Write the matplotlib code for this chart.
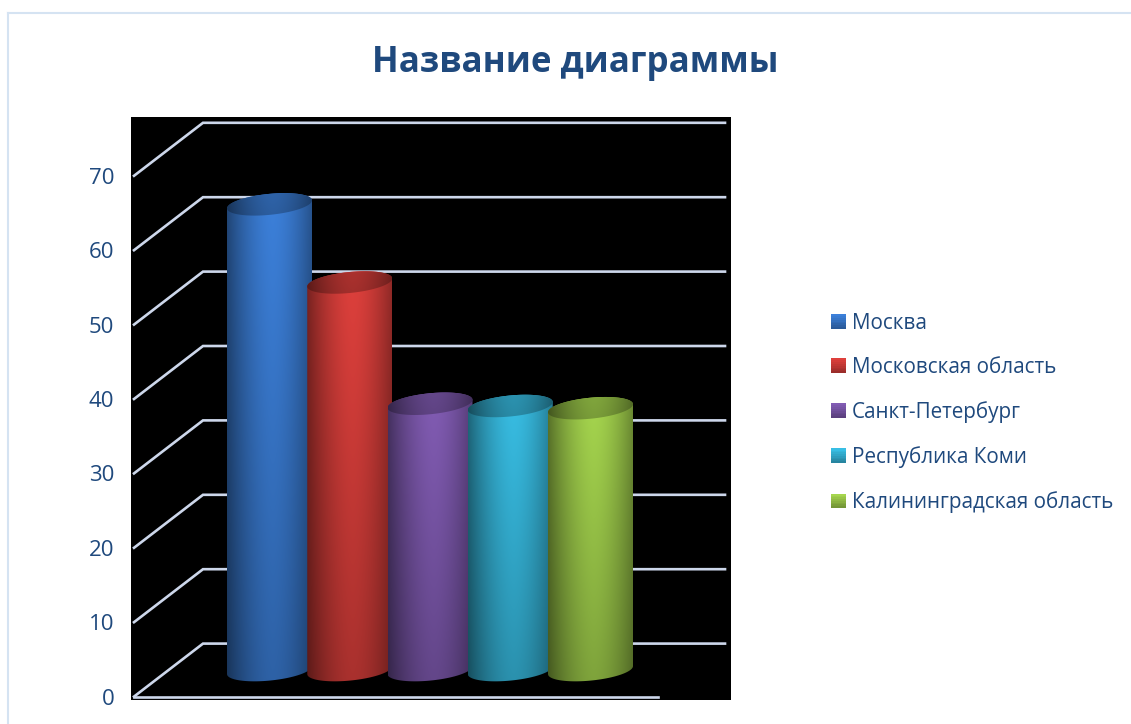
import numpy as np
import matplotlib
matplotlib.use("Agg")
from matplotlib import pyplot as plt
from matplotlib.legend_handler import HandlerBase
from matplotlib.lines import Line2D
from matplotlib.patches import Polygon, Rectangle

regioes = ["Москва", "Московская область", "Санкт-Петербург", "Республика Коми", "Калининградская область"]
valores = [62.6, 52.1, 35.8, 35.5, 35.2]
cores = ["#3C80DA", "#DE403C", "#825CB4", "#38BEE4", "#A6D64E"]
ticks = [0, 10, 20, 30, 40, 50, 60, 70]

LARGURA, ALTURA = 1131, 724
PX_X = 80.25  # pixels por categoria
PX_Y = 7.44   # pixels por unidade
COR_TEXTO = "#1F497D"
COR_GRADE = "#CDD7EB"

plt.rcParams["font.family"] = ["Open Sans", "DejaVu Sans"]

fig = plt.figure(figsize=(LARGURA / 100, ALTURA / 100), dpi=100)
ax = fig.add_axes([131 / LARGURA, 1 - 700 / ALTURA, 600 / LARGURA, 583 / ALTURA])
ax.set_facecolor("black")

xlim = ((131 - 269.5) / PX_X, (731 - 269.5) / PX_X)
ylim = (-3.4 / PX_Y, (696.6 - 117) / PX_Y)

# profundidade do piso
prof_x = 69 / PX_X
prof_y = 53 / PX_Y
x_frente = (134 - 269.5) / PX_X
x_fundo = (725 - 269.5) / PX_X
x_piso = (658 - 269.5) / PX_X

for t in ticks:
    ax.plot([x_frente, x_frente + prof_x, x_fundo], [t, t + prof_y, t + prof_y],
            color=COR_GRADE, lw=1.9, solid_joinstyle="miter", zorder=1)
ax.plot([x_frente, x_piso], [0, 0], color=COR_GRADE, lw=1.9, zorder=1)

# cilindro
raio_x = 42.5 / PX_X
raio_y = 10.5 / PX_Y
inclinacao = 4 / PX_Y
base = prof_y / 2


def elipse(cx, cy, t):
    return cx + raio_x * np.cos(t), cy + raio_y * np.sin(t) + inclinacao * np.cos(t)


def degrade(cor, escala_topo, escala_base):
    rgb = np.array(matplotlib.colors.to_rgb(cor))
    u = np.linspace(-1, 1, 120)
    perfil = 1 - 0.4 * np.abs(u - 0.08) ** 1.7
    vertical = np.linspace(escala_topo, escala_base, 100)
    return np.clip(np.outer(vertical, perfil)[:, :, None] * rgb, 0, 1)


def desenhar_cilindro(i, valor, cor, z):
    topo = base + valor
    t_baixo = np.linspace(np.pi, 2 * np.pi, 60)
    t_cima = np.linspace(0, np.pi, 60)
    bx, by = elipse(i, base, t_baixo)
    cx, cy = elipse(i, topo, t_cima)
    corpo = Polygon(np.column_stack([np.r_[bx, cx], np.r_[by, cy]]), closed=True,
                    transform=ax.transData, fc="none", ec="none")
    ax.add_patch(corpo)
    extensao = [i - raio_x, i + raio_x, base - raio_y - inclinacao, topo + raio_y + inclinacao]
    img = ax.imshow(degrade(cor, 1.0, 0.76), extent=extensao, origin="upper", aspect="auto",
                    interpolation="bilinear", zorder=z)
    img.set_clip_path(corpo)

    tx, ty = elipse(i, topo, np.linspace(0, 2 * np.pi, 120))
    tampa = Polygon(np.column_stack([tx, ty]), closed=True, transform=ax.transData, fc="none", ec="none")
    ax.add_patch(tampa)
    img2 = ax.imshow(degrade(cor, 0.78, 0.72), extent=[i - raio_x, i + raio_x, topo - raio_y - inclinacao,
                     topo + raio_y + inclinacao], origin="upper", aspect="auto",
                     interpolation="bilinear", zorder=z + 0.5)
    img2.set_clip_path(tampa)


for i, (valor, cor) in enumerate(zip(valores, cores)):
    desenhar_cilindro(i, valor, cor, 2 + i)

ax.set_xlim(xlim)
ax.set_ylim(ylim)
ax.set_xticks([])
ax.set_yticks(ticks)
ax.tick_params(axis="y", length=0, pad=12, labelsize=16, labelcolor=COR_TEXTO)
for lado in ax.spines.values():
    lado.set_visible(False)


class HandlerDegrade(HandlerBase):
    def create_artists(self, legend, orig_handle, xdescent, ydescent, width, height, fontsize, trans):
        rgb = np.array(matplotlib.colors.to_rgb(orig_handle.get_facecolor()))
        faixas = []
        for k in range(8):
            fator = 0.7 + 0.3 * k / 7
            faixas.append(Rectangle((-xdescent, -ydescent + height * k / 8), width, height / 8 + 0.2,
                                    fc=rgb * fator, ec="none", transform=trans))
        return faixas


alcas = [Rectangle((0, 0), 1, 1, fc=c) for c in cores]
leg = fig.legend(alcas, regioes, loc="center left", bbox_to_anchor=(831 / LARGURA, 1 - 413 / ALTURA),
                 frameon=False, fontsize=14.9, labelcolor=COR_TEXTO, labelspacing=1.12,
                 handlelength=0.73, handleheight=0.68, handletextpad=0.29, borderpad=0, borderaxespad=0,
                 handler_map={Rectangle: HandlerDegrade()})

fig.text(575.5 / LARGURA, 1 - 63 / ALTURA, "Название диаграммы", ha="center", va="center",
         fontsize=25.1, fontweight="bold", color=COR_TEXTO)

# moldura do grafico
fig.add_artist(Line2D([8 / LARGURA, 8 / LARGURA], [0, 1 - 13 / ALTURA], color="#D5E3F2", lw=1.5))
fig.add_artist(Line2D([8 / LARGURA, 1], [1 - 13 / ALTURA, 1 - 13 / ALTURA], color="#D5E3F2", lw=1.5))

fig.savefig("out.png", dpi=100)
